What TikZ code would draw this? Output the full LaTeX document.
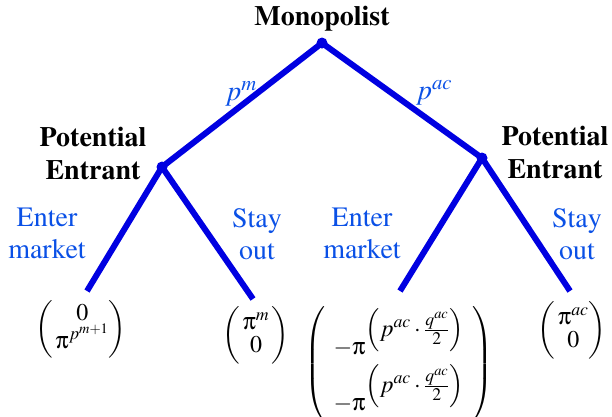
\documentclass[tikz,border=0pt]{standalone}
\usepackage[T1]{fontenc}
\usepackage{mathptmx}
\usepackage[Symbol]{upgreek}
\newcommand{\ppi}{\uppi}
\definecolor{lineblue}{RGB}{0,0,225}
\definecolor{textblue}{RGB}{10,80,230}
\tikzset{
  branch/.style={draw=lineblue, line width=6pt},
  dotnode/.style={circle, fill=lineblue, inner sep=0pt, minimum size=11pt},
  player/.style={font=\fontsize{28}{33}\selectfont\bfseries, align=center, inner sep=0pt},
  movelabel/.style={font=\fontsize{28}{32}\selectfont, text=textblue, align=center, inner sep=0pt},
  payoff/.style={font=\fontsize{24}{28}\selectfont, inner sep=0pt}
}
\begin{document}
\begin{tikzpicture}[x=1pt,y=-1pt]
\useasboundingbox (0,0) rectangle (612,416);
% decision nodes
\node[dotnode] (root) at (322,43) {};
\node[dotnode] (pe1) at (162,167) {};
\node[dotnode] (pe2) at (482,158) {};
% leaf ends
\coordinate (l1) at (87,291);
\coordinate (l2) at (253,299);
\coordinate (l3) at (400,291);
\coordinate (l4) at (570,291);
% branches
\draw[branch] (root.center) -- (pe1.center);
\draw[branch] (root.center) -- (pe2.center);
\draw[branch] (pe1.center) -- (l1);
\draw[branch] (pe1.center) -- (l2);
\draw[branch] (pe2.center) -- (l3);
\draw[branch] (pe2.center) -- (l4);
% players
\node[player] (mono) at (322,19) {Monopolist};
\node[player] (pe1lab) at (93,154) {Potential\\Entrant};
\node[player] (pe2lab) at (555,153) {Potential\\Entrant};
% move labels
\node[movelabel] (pm) at (241,94) {$p^{m}$};
\node[movelabel] (pac) at (434,93) {$p^{ac}$};
\node[movelabel] (e1) at (47,234) {Enter\\market};
\node[movelabel] (s1) at (257,234) {Stay\\out};
\node[movelabel] (e2) at (362,234) {Enter\\market};
\node[movelabel] (s2) at (577,234) {Stay\\out};
% payoffs
\node[payoff] (p1) at (81,329) {$\left(\,\begin{array}{@{}c@{}}0\\[-5pt]\ppi^{p^{m+1}}\end{array}\right)$};
\node[payoff] (p2) at (256,335) {$\left(\,\begin{array}{@{}c@{}}\ppi^{m}\\[-5pt]0\end{array}\,\right)$};
\node[payoff] (p3) at (399,364) {$\left(\;\,\begin{array}{@{}c@{}}
 -\ppi^{\textstyle\left(p^{ac}\cdot\frac{q^{ac}}{2}\right)}\\[2pt]
 -\ppi^{\textstyle\left(p^{ac}\cdot\frac{q^{ac}}{2}\right)}
 \end{array}\;\,\right)$};
\node[payoff] (p4) at (572,330) {$\left(\,\begin{array}{@{}c@{}}\ppi^{ac}\\[-5pt]0\end{array}\right)$};
\end{tikzpicture}
\end{document}
